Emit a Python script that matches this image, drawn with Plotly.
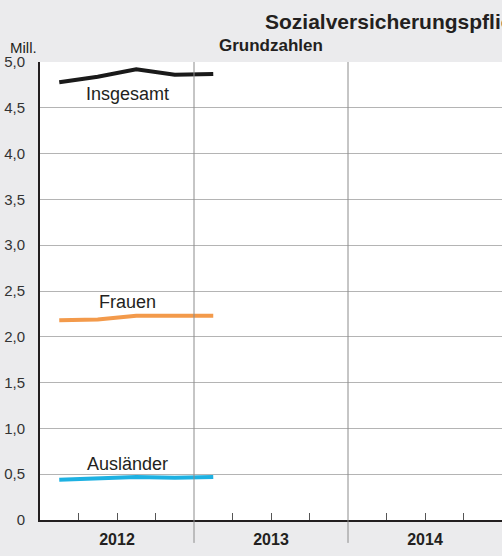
import plotly.graph_objects as go

# Quarterly values, millions
periods = ["2012 Q1", "2012 Q2", "2012 Q3", "2012 Q4", "2013 Q1"]
insgesamt = [4.78, 4.84, 4.92, 4.86, 4.87]
frauen = [2.18, 2.19, 2.23, 2.23, 2.23]
auslaender = [0.44, 0.46, 0.47, 0.46, 0.47]

years = [2012, 2013, 2014]
y_ticks = [0, 0.5, 1.0, 1.5, 2.0, 2.5, 3.0, 3.5, 4.0, 4.5, 5.0]

FONT = "Liberation Sans, Arial, sans-serif"
TXT = "#231f20"
GRID = "#b4b4b4"


def quarter_pos(p):
    y, q = p.split(" Q")
    return int(y) + (int(q) - 0.5) / 4


x = [quarter_pos(p) for p in periods]

fig = go.Figure()
series = [
    ("Insgesamt", insgesamt, "#1a1a1a", 4.65),
    ("Frauen", frauen, "#f39a4b", 2.38),
    ("Ausländer", auslaender, "#1db1e2", 0.61),
]
for name, vals, color, label_y in series:
    fig.add_trace(
        go.Scatter(x=x, y=vals, mode="lines", name=name,
                   line=dict(color=color, width=4), showlegend=False)
    )
    fig.add_annotation(x=2012.57, y=label_y, text=name, showarrow=False,
                       font=dict(size=18, color=TXT, family=FONT))

# quarter ticks; year labels sit on mid-year ticks
tickvals, ticktext = [], []
for yr in years:
    for q in (0.25, 0.5, 0.75):
        tickvals.append(yr + q)
        ticktext.append(f"<b>{yr}</b>" if q == 0.5 else "")

# year separators reaching into the label band
for yr in years[1:]:
    fig.add_shape(type="line", xref="x", yref="paper", x0=yr, x1=yr,
                  y0=-0.05, y1=1, line=dict(color="#8c8c8c", width=1))

fig.add_annotation(xref="paper", yref="paper", x=-32 / 462, y=1.0, yshift=15,
                   xanchor="left", yanchor="middle", text="Mill.", showarrow=False,
                   font=dict(size=15, color=TXT, family=FONT))
fig.add_annotation(xref="paper", yref="paper", x=0.5, y=1.0, yshift=17,
                   yanchor="middle", text="<b>Grundzahlen</b>", showarrow=False,
                   font=dict(size=17, color=TXT, family=FONT))
fig.add_annotation(xref="paper", yref="paper", x=223 / 462, y=1.0, yshift=41,
                   xanchor="left", yanchor="middle",
                   text="<b>Sozialversicherungspflichtig Beschäftigte</b>",
                   showarrow=False, font=dict(size=21, color=TXT, family=FONT))

fig.update_layout(
    width=502, height=556,
    margin=dict(l=40, r=0, t=62, b=36),
    paper_bgcolor="#ebebed", plot_bgcolor="white",
    font=dict(family=FONT, color=TXT),
    xaxis=dict(range=[2012, 2015], tickvals=tickvals, ticktext=ticktext,
               ticks="inside", ticklen=7, tickcolor="#555", tickwidth=1,
               showgrid=False, zeroline=False, showline=True,
               linecolor="#231f20", linewidth=2, ticklabelstandoff=4,
               tickfont=dict(size=16, color=TXT)),
    yaxis=dict(range=[0, 5.0], tickvals=y_ticks,
               ticktext=[f"{v:.1f}".replace(".", ",") if v else "0" for v in y_ticks],
               showgrid=True, gridcolor=GRID, gridwidth=1, zeroline=False,
               showline=True, linecolor="#231f20", linewidth=2, ticks="",
               ticklabelstandoff=10, tickfont=dict(size=15, color="#333")),
)

fig.write_html(
    "out.html",
    config={"displayModeBar": False},
    post_script="document.body.style.margin='0';document.body.style.overflow='hidden';",
)
